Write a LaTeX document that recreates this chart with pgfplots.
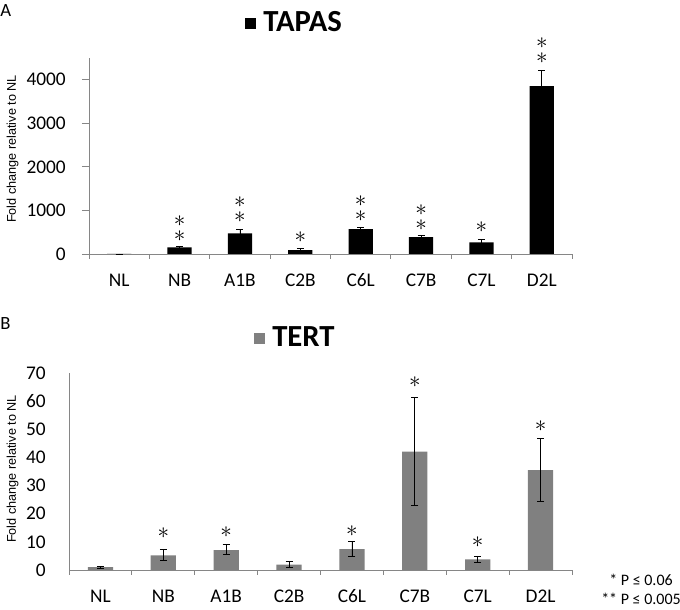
\documentclass[border=0pt]{standalone}
\usepackage{pgfplots}
\pgfplotsset{compat=1.18}
\usepackage{fontspec}
\setmainfont{Carlito}
\newfontfamily\labfont{Liberation Sans}
\definecolor{axgray}{RGB}{134,134,134}
\definecolor{bargray}{RGB}{128,128,128}
\newcommand{\tickfont}{\fontsize{14.5}{16}\selectfont}
\newcommand{\st}[2]{\node[font=\fontsize{16}{16}\selectfont, inner sep=0pt, anchor=base, yshift=-4pt] at (axis cs:#1,#2) {\smash{$\ast$}};}

\pgfplotstableread{
x y ep em
0 1 0 0
1 152 23 23
2 472 99 99
3 91 39 39
4 571 46 46
5 389 30 30
6 267 61 61
7 3855 366 366
}\tapas

\pgfplotstableread{
x y ep em
0 1.0 0.4 0.3
1 5.2 2.0 1.8
2 7.1 1.9 1.6
3 1.9 1.0 0.8
4 7.4 2.7 2.6
5 42.1 19.3 19.3
6 3.8 1.2 1.1
7 35.5 11.3 11.3
}\tert

\pgfplotsset{
 mybase/.style={
  scale only axis,
  xmin=-0.5, xmax=7.5, ymin=0,
  axis x line*=bottom, axis y line*=left,
  axis line style={draw=axgray, line width=0.6pt, -},
  xtick={0,...,7},
  xticklabels={NL,NB,A1B,C2B,C6L,C7B,C7L,D2L},
  minor xtick={-0.5,0.5,...,7.5},
  major x tick style={draw=none},
  minor x tick style={draw=axgray, line width=0.6pt},
  minor tick length=3.5pt,
  major tick length=5.25pt,
  tick align=outside,
  tick label style={font=\tickfont},
  /pgf/number format/assume math mode=true,
  /pgf/number format/set thousands separator={},
  scaled y ticks=false,
  xticklabel style={anchor=base, inner sep=0pt, yshift=-19.25pt},
  yticklabel style={anchor=east, inner sep=0pt, xshift=-12pt},
  ylabel={Fold change relative to NL},
  clip=false,
 }
}

\begin{document}
\begin{tikzpicture}
\useasboundingbox (0pt,0pt) rectangle (510pt,456.75pt);

% panel letters and titles
\node[anchor=base west, inner sep=0pt, font=\fontsize{14}{16}\selectfont] at (0pt,444pt) {A};
\node[anchor=base west, inner sep=0pt, font=\fontsize{14}{16}\selectfont] at (0pt,209.25pt) {B};
\node[anchor=base west, inner sep=0pt, font=\fontsize{23}{25}\selectfont\bfseries] at (183.75pt,432.75pt) {\rule[2.6pt]{8.25pt}{8.25pt}\hspace{5.25pt}TAPAS};
\node[anchor=base west, inner sep=0pt, font=\fontsize{23}{25}\selectfont\bfseries] at (190.5pt,196.5pt) {\textcolor{bargray}{\rule[2.6pt]{8.25pt}{8.25pt}}\hspace{5.25pt}TERT};

% footnote
\node[anchor=base, inner sep=0pt, font=\fontsize{12}{14}\selectfont] at (480.75pt,18pt) {* P ≤ 0.06};
\node[anchor=base, inner sep=0pt, font=\fontsize{12}{14}\selectfont] at (480.75pt,3.5pt) {** P ≤ 0.005};

% ---- Panel A ----
\begin{axis}[mybase,
  at={(66.75pt,266.25pt)}, anchor=south west,
  width=362.25pt, height=147pt,
  ymax=4500, ytick={0,1000,2000,3000,4000},
  major y tick style={draw=axgray, line width=0.6pt},
  every axis y label/.style={at={(rel axis cs:-0.1584,0.5357)}, rotate=90, anchor=center, font=\labfont\fontsize{9.5}{11}\selectfont},
]
\addplot[ybar, bar width=0.4, fill=black, draw=none,
  error bars/.cd, y dir=both, y explicit,
  error bar style={black, line width=0.6pt},
  error mark options={rotate=90, black, mark size=2.6pt, line width=0.6pt}]
  table[x=x, y=y, y error plus=ep, y error minus=em] {\tapas};
\st{1}{762}\st{1}{419}
\st{2}{1196}\st{2}{838}
\st{3}{381}
\st{4}{1204}\st{4}{861}
\st{5}{1013}\st{5}{670}
\st{6}{625}
\st{7}{4838}\st{7}{4495}
\end{axis}

% ---- Panel B ----
\begin{axis}[mybase,
  at={(51.75pt,29.25pt)}, anchor=south west,
  width=377.25pt, height=147.75pt,
  ymax=70, ytick={0,10,...,70},
  major y tick style={draw=none},
  every axis y label/.style={at={(rel axis cs:-0.1123,0.5127)}, rotate=90, anchor=center, font=\labfont\fontsize{9.5}{11}\selectfont},
]
\addplot[ybar, bar width=0.4, fill=bargray, draw=none,
  error bars/.cd, y dir=both, y explicit,
  error bar style={black, line width=0.6pt},
  error mark options={rotate=90, black, mark size=2.6pt, line width=0.6pt}]
  table[x=x, y=y, y error plus=ep, y error minus=em] {\tert};
\draw[axgray, line width=0.6pt] (rel axis cs:0,0) -- ++(-5.25pt,0);
\st{1}{13.0}
\st{2}{13.5}
\st{4}{13.7}
\st{5}{66.8}
\st{6}{10.0}
\st{7}{51.0}
\end{axis}
\end{tikzpicture}
\end{document}
